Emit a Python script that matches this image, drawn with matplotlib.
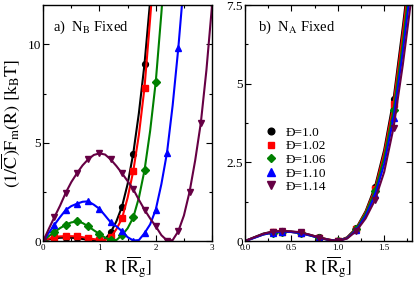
import matplotlib
matplotlib.use("Agg")
import matplotlib.pyplot as plt
from matplotlib.ticker import MultipleLocator

plt.rcParams['font.family'] = ['Liberation Serif', 'DejaVu Serif']
plt.rcParams['mathtext.fontset'] = 'stix'

# dispersity labels
labels = ['Đ=1.0', 'Đ=1.02', 'Đ=1.06', 'Đ=1.10', 'Đ=1.14']
colors = ['black', 'red', 'green', 'blue', '#660044']
markers = ['o', 's', 'D', '^', 'v']
msizes = [4.2, 4.2, 3.8, 4.6, 4.6]

# panel a) N_B fixed
ra = [0.0, 0.1, 0.2, 0.3, 0.4, 0.5, 0.6, 0.7, 0.8, 0.9, 1.0, 1.1, 1.2, 1.3, 1.4,
      1.5, 1.6, 1.7, 1.8, 1.9, 2.0, 2.1, 2.2, 2.3, 2.4, 2.5, 2.6, 2.7, 2.8, 2.9, 3.0]
fa_10 = [0, 0.08, 0.14, 0.17, 0.18, 0.17, 0.15, 0.11, 0.07, 0.03, 0.0, 0.1, 0.45,
         1.0, 1.75, 2.9, 4.45, 6.5, 9.0, 12.2]
fa_102 = [0, 0.12, 0.2, 0.24, 0.25, 0.25, 0.24, 0.2, 0.15, 0.1, 0.07, 0.05, 0.2,
          0.6, 1.15, 2.2, 3.55, 5.4, 7.8, 11.3, 15.0]
fa_106 = [0, 0.25, 0.46, 0.66, 0.83, 0.95, 1.0, 0.92, 0.75, 0.55, 0.36, 0.18, 0.06,
          0.05, 0.3, 0.65, 1.2, 2.2, 3.6, 5.6, 8.1, 11.6, 15.5]
fa_110 = [0, 0.42, 0.83, 1.22, 1.58, 1.78, 1.9, 2.0, 2.02, 1.85, 1.64, 1.3, 0.95,
          0.75, 0.5, 0.2, 0.03, 0.05, 0.4, 0.85, 1.6, 2.9, 4.5, 6.9, 9.8, 13.2]
fa_114 = [0, 0.62, 1.22, 1.8, 2.45, 3.0, 3.45, 3.85, 4.16, 4.38, 4.46, 4.4, 4.15,
          3.82, 3.45, 3.05, 2.64, 2.1, 1.6, 1.15, 0.75, 0.3, 0.03, 0.05, 0.5, 1.3,
          2.5, 4.1, 6.0, 8.7, 12.0]
fa = [fa_10, fa_102, fa_106, fa_110, fa_114]

# panel b) N_A fixed
rb = [0.0, 0.1, 0.2, 0.3, 0.4, 0.5, 0.6, 0.7, 0.8, 0.9, 1.0, 1.1, 1.2, 1.3, 1.4,
      1.5, 1.6, 1.7, 1.8]
fb_10 = [0, 0.12, 0.24, 0.3, 0.32, 0.3, 0.27, 0.2, 0.12, 0.05, 0.0, 0.12, 0.42,
         0.95, 1.72, 2.9, 4.5, 6.8, 9.3]
fb_102 = [0, 0.11, 0.22, 0.28, 0.3, 0.29, 0.26, 0.19, 0.11, 0.05, 0.0, 0.11, 0.4,
          0.92, 1.65, 2.8, 4.35, 6.6, 9.1]
fb_106 = [0, 0.11, 0.21, 0.27, 0.3, 0.29, 0.25, 0.18, 0.1, 0.04, 0.0, 0.1, 0.38,
          0.88, 1.58, 2.65, 4.15, 6.3, 8.8]
fb_110 = [0, 0.1, 0.21, 0.27, 0.3, 0.29, 0.25, 0.18, 0.1, 0.04, 0.0, 0.09, 0.35,
          0.8, 1.45, 2.45, 3.9, 6.0, 8.4]
fb_114 = [0, 0.12, 0.23, 0.3, 0.32, 0.31, 0.28, 0.2, 0.11, 0.04, 0.0, 0.08, 0.32,
          0.72, 1.3, 2.2, 3.6, 5.6, 7.9]
fb = [fb_10, fb_102, fb_106, fb_110, fb_114]
mark_b = [3, 4, 6, 8, 10, 12, 14, 16]

fig = plt.figure(figsize=(4.15, 2.81), dpi=100)
ax1 = fig.add_axes([0.104, 0.142, 0.407, 0.840])
ax2 = fig.add_axes([0.590, 0.142, 0.403, 0.840])

for y, c, m, ms in zip(fa, colors, markers, msizes):
    ax1.plot(ra[:len(y)], y, color=c, lw=1.5, marker=m, ms=ms, markevery=2)

for y, c, m, ms, lab in zip(fb, colors, markers, msizes, labels):
    ax2.plot(rb, y, color=c, lw=1.5, marker=m, ms=ms, markevery=mark_b)
    ax2.plot([], [], ls='none', color=c, marker=m, ms=ms + 0.6, label=lab)

ax1.set_xlim(0, 3)
ax1.set_ylim(0, 12)
ax1.xaxis.set_major_locator(MultipleLocator(1))
ax1.xaxis.set_minor_locator(MultipleLocator(0.5))
ax1.yaxis.set_major_locator(MultipleLocator(5))
ax1.yaxis.set_minor_locator(MultipleLocator(2.5))

ax2.set_xlim(0, 1.8)
ax2.set_ylim(0, 7.5)
ax2.xaxis.set_major_locator(MultipleLocator(0.5))
ax2.xaxis.set_minor_locator(MultipleLocator(0.25))
ax2.yaxis.set_minor_locator(MultipleLocator(1.25))
ax2.set_yticks([0, 2.5, 5, 7.5])
ax2.set_yticklabels(['0', '2.5', '5', '7.5'])

for ax in (ax1, ax2):
    ax.tick_params(which='both', direction='in', top=True, right=True)
    ax.tick_params(which='major', length=4, width=0.8)
    ax.tick_params(which='minor', length=2, width=0.8)
    ax.tick_params(axis='x', labelsize=6.5, pad=2)
    ax.tick_params(axis='y', labelsize=9.5, pad=1.5)
    for s in ax.spines.values():
        s.set_linewidth(1.0)
    ax.set_xlabel(r'$\mathrm{R\ [\overline{R}_g]}$', fontsize=13, labelpad=2)

ax1.set_ylabel(r'$\mathrm{(1/\overline{C})F_m(R)\ [k_B T]}$', fontsize=13, labelpad=4)

ax1.text(0.06, 0.89, r'a)  N$_\mathrm{B}$ Fixed', transform=ax1.transAxes, fontsize=10.5)
ax2.text(0.08, 0.89, r'b)  N$_\mathrm{A}$ Fixed', transform=ax2.transAxes, fontsize=10.5)

ax2.legend(loc='upper left', bbox_to_anchor=(0.115, 0.485), frameon=False, fontsize=9.5,
           handlelength=1.0, handletextpad=0.6, labelspacing=0.1, borderpad=0,
           borderaxespad=0)

fig.savefig('out.png', dpi=100)
